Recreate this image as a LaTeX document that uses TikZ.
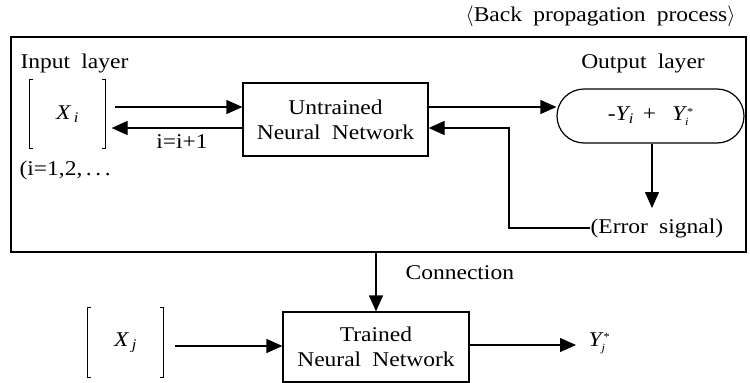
\documentclass[tikz,border=0pt]{standalone}
\usepackage{fontspec}
\setmainfont{Liberation Serif}[FakeStretch=1.12, WordSpace=1.9]
\usetikzlibrary{arrows.meta,shapes.misc}
\newcommand{\myvar}[2]{{\itshape #1}\,\textsubscript{\itshape #2}}
\newcommand{\mysub}[2]{{\itshape #1}\textsubscript{\itshape #2}}
\newcommand{\mystar}[2]{{\itshape #1}\raisebox{-5pt}{\fontsize{11}{13}\selectfont\shortstack[l]{\,*\\\itshape #2}}}
\begin{document}
\begin{tikzpicture}[x=1pt,y=-1pt, line width=1.2pt,
  every node/.style={font=\fontsize{21}{25}\selectfont, inner sep=0pt},
  arr/.style={-{Triangle[length=16pt,width=14pt]}},
  box/.style={draw, align=center},
  brk/.style={minimum width=75pt, minimum height=68pt}]
\useasboundingbox (0,0) rectangle (750,383);

% outer frame and title
\node[draw, minimum width=735pt, minimum height=215pt] (outer) at (378.5,144.5) {};
\node[anchor=east] (title) at (736,16) {$\langle$Back propagation process$\rangle$};

% input layer
\node[anchor=west] (inl) at (20,63) {Input layer};
\node[brk] (xi) at (67.5,114) {\myvar{X}{i}};
\draw ([xshift=4pt]xi.north west) -- (xi.north west) -- (xi.south west) -- ([xshift=4pt]xi.south west);
\draw ([xshift=-4pt]xi.north east) -- (xi.north east) -- (xi.south east) -- ([xshift=-4pt]xi.south east);
\node[anchor=west] (range) at (19,170) {(i=1,2,\,.\,.\,.};

% untrained network
\node[box, minimum width=185pt, minimum height=73pt] (un) at (335.5,119.5) {Untrained\\Neural Network};
\draw[arr] ([xshift=9pt]xi.east |- 0,107) -- (un.west |- 0,107);
\draw[arr] (un.west |- 0,128) -- ([xshift=6pt]xi.east |- 0,128);
\node (inc) at (182,142) {i=i+1};

% output layer
\node (outl) at (643,63) {Output layer};
\node[draw, rounded rectangle, minimum width=187pt, minimum height=54pt] (out) at (650.5,116) {-\mysub{Y}{i}\hspace{9pt}+\hspace{16pt}\mystar{Y}{i}};
\draw[arr] (un.east |- 0,107) -- (out.west |- 0,107);
\node[anchor=west] (err) at (590,228) {(Error signal)};
\coordinate (fb) at (509,128);
\draw[arr] (out.south -| 652,0) -- (652,208);
\draw[arr] (err.west) -| (fb) -- (un.east |- fb);

% trained network
\node[box, minimum width=186pt, minimum height=70pt] (tr) at (376,347) {Trained\\Neural Network};
\draw[arr] (outer.south -| tr.north) -- (tr.north);
\node[anchor=west] (conn) at (405,273) {Connection};
\node[brk, minimum height=69pt] (xj) at (125.5,342.5) {\myvar{X}{j}};
\draw ([xshift=4pt]xj.north west) -- (xj.north west) -- (xj.south west) -- ([xshift=4pt]xj.south west);
\draw ([xshift=-4pt]xj.north east) -- (xj.north east) -- (xj.south east) -- ([xshift=-4pt]xj.south east);
\draw[arr] ([xshift=11pt]xj.east |- 0,346) -- (tr.west |- 0,346);
\node[anchor=west] (yj) at (588,343) {\mystar{Y}{j}};
\draw[arr] (tr.east |- 0,345) -- ([xshift=-12pt]yj.west |- 0,345);
\end{tikzpicture}
\end{document}
